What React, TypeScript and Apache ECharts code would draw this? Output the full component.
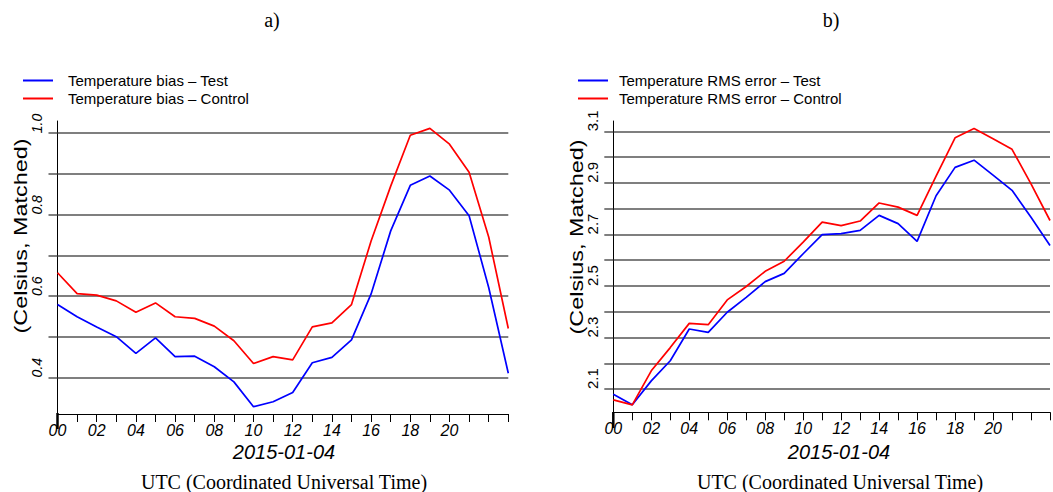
import React, { useEffect, useRef } from "react";
import * as echarts from "echarts";

// Hours (UTC) on 2015-01-04
const hours = [0, 1, 2, 3, 4, 5, 6, 7, 8, 9, 10, 11, 12, 13, 14, 15, 16, 17, 18, 19, 20, 21, 22, 23];

// a) Temperature bias
const biasTest = [0.579, 0.549, 0.524, 0.5, 0.459, 0.497, 0.451, 0.452, 0.426, 0.389, 0.328, 0.34, 0.363, 0.436, 0.449, 0.492, 0.605, 0.76, 0.872, 0.895, 0.86, 0.797, 0.621, 0.41];
const biasControl = [0.657, 0.606, 0.602, 0.588, 0.56, 0.583, 0.549, 0.545, 0.526, 0.49, 0.434, 0.451, 0.443, 0.524, 0.534, 0.579, 0.735, 0.87, 0.995, 1.012, 0.973, 0.904, 0.745, 0.52];

// b) Temperature RMS error
const rmsTest = [2.08, 2.039, 2.132, 2.21, 2.333, 2.32, 2.398, 2.456, 2.517, 2.549, 2.625, 2.699, 2.703, 2.716, 2.774, 2.742, 2.673, 2.85, 2.96, 2.988, 2.93, 2.871, 2.767, 2.657];
const rmsControl = [2.058, 2.039, 2.171, 2.261, 2.355, 2.35, 2.446, 2.498, 2.557, 2.596, 2.67, 2.748, 2.734, 2.752, 2.822, 2.806, 2.774, 2.926, 3.075, 3.111, 3.071, 3.03, 2.896, 2.754];

// Axis ticks / labels
const biasGridValues = [0.4, 0.5, 0.6, 0.7, 0.8, 0.9, 1.0];
const biasLabelValues = [0.4, 0.6, 0.8, 1.0];
const rmsGridValues = [2.1, 2.2, 2.3, 2.4, 2.5, 2.6, 2.7, 2.8, 2.9, 3.0, 3.1];
const rmsLabelValues = [2.1, 2.3, 2.5, 2.7, 2.9, 3.1];
const dateLabel = "2015-01-04";
const utcLabel = "UTC (Coordinated Universal Time)";
const yName = "(Celsius, Matched)";

const SANS = "'Liberation Sans', Arial, sans-serif";
const SERIF = "'Liberation Serif', 'Times New Roman', serif";
const GRID_COLOR = "#555";

function xAxisFor(gridIndex: number) {
  return {
    type: "value",
    gridIndex,
    min: 0,
    max: 23,
    interval: 1,
    axisLine: { show: true, lineStyle: { color: "#000", width: 1 } },
    axisTick: { show: true, length: 8, lineStyle: { color: "#000", width: 1 } },
    splitLine: { show: false },
    axisLabel: {
      margin: 8,
      color: "#000",
      fontFamily: SANS,
      fontStyle: "italic",
      fontSize: 16,
      formatter: (v: number) => (v % 2 === 0 && v <= 20 ? String(v).padStart(2, "0") : ""),
    },
  };
}

function yAxisFor(
  gridIndex: number,
  min: number,
  max: number,
  grid: number[],
  labels: number[],
  italic: boolean,
  fontSize: number,
  margin: number
) {
  return {
    type: "value",
    gridIndex,
    min,
    max,
    axisLine: { show: true, lineStyle: { color: "#000", width: 1 } },
    axisTick: { show: true, customValues: grid, length: 9, lineStyle: { color: GRID_COLOR, width: 1.5 } },
    splitLine: { show: true, lineStyle: { color: GRID_COLOR, width: 1.5 } },
    axisLabel: {
      customValues: labels,
      rotate: 90,
      align: "left",
      verticalAlign: "bottom",
      margin,
      color: "#000",
      fontFamily: SANS,
      fontStyle: italic ? "italic" : "normal",
      fontSize,
      formatter: (v: number) => v.toFixed(1),
    },
  };
}

function lineSeries(name: string, values: number[], color: string, idx: number) {
  return {
    name,
    type: "line",
    xAxisIndex: idx,
    yAxisIndex: idx,
    data: hours.map((h, i) => [h, values[i]]),
    showSymbol: false,
    symbol: "none",
    clip: true,
    lineStyle: { color, width: 1.7 },
    itemStyle: { color },
    z: 3,
  };
}

function textEl(text: string, x: number, y: number, font: string, rotation = 0, scaleX = 1) {
  return {
    type: "text",
    x,
    y,
    rotation,
    scaleX,
    style: { text, font, fill: "#000", textAlign: "center", textVerticalAlign: "middle" },
  };
}

export default function App() {
  const ref = useRef<HTMLDivElement>(null);
  useEffect(() => {
    if (!ref.current) return;
    const chart = echarts.init(ref.current, undefined, { renderer: "svg" });
    const legendCommon = {
      orient: "vertical",
      icon: "rect",
      itemWidth: 30,
      itemHeight: 2,
      itemGap: 3,
      padding: 0,
      selectedMode: false,
    };
    chart.setOption({
      animation: false,
      backgroundColor: "#fff",
      grid: [
        { left: 57.5, right: 544.7, top: 121, bottom: 78 },
        { left: 613.3, right: -8, top: 121, bottom: 79.7 },
      ],
      legend: [
        {
          ...legendCommon,
          left: 23,
          top: 73,
          textStyle: { color: "#000", fontFamily: SANS, fontSize: 15, padding: [0, 0, 0, 10] },
          data: ["Temperature bias \u2013 Test", "Temperature bias \u2013 Control"],
        },
        {
          ...legendCommon,
          left: 578,
          top: 73,
          textStyle: { color: "#000", fontFamily: SANS, fontSize: 15, padding: [0, 0, 0, 6] },
          data: ["Temperature RMS error \u2013 Test", "Temperature RMS error \u2013 Control"],
        },
      ],
      xAxis: [xAxisFor(0), xAxisFor(1)],
      yAxis: [
        yAxisFor(0, 0.31, 1.03, biasGridValues, biasLabelValues, true, 14, 14),
        yAxisFor(1, 2.01, 3.14, rmsGridValues, rmsLabelValues, false, 15, 13),
      ],
      series: [
        lineSeries("Temperature bias \u2013 Test", biasTest, "#0000ff", 0),
        lineSeries("Temperature bias \u2013 Control", biasControl, "#ff0000", 0),
        lineSeries("Temperature RMS error \u2013 Test", rmsTest, "#0000ff", 1),
        lineSeries("Temperature RMS error \u2013 Control", rmsControl, "#ff0000", 1),
      ],
      graphic: [
        textEl("a)", 272, 20, `20px ${SERIF}`),
        textEl("b)", 831, 20, `20px ${SERIF}`),
        textEl(yName, 20.5, 236, `18px ${SANS}`, Math.PI / 2, 1.3),
        textEl(yName, 577, 237, `18px ${SANS}`, Math.PI / 2, 1.3),
        textEl(dateLabel, 284, 452, `italic 20px ${SANS}`),
        textEl(dateLabel, 839, 452, `italic 20px ${SANS}`),
        textEl(utcLabel, 284, 482, `20px ${SERIF}`),
        textEl(utcLabel, 840, 482, `20px ${SERIF}`),
        { type: "line", shape: { x1: 57.5, y1: 413, x2: 57.5, y2: 429 }, style: { stroke: "#000", lineWidth: 2.5 } },
        { type: "line", shape: { x1: 613.3, y1: 412, x2: 613.3, y2: 428 }, style: { stroke: "#000", lineWidth: 2.5 } },
      ],
    });
    return () => chart.dispose();
  }, []);
  return (
    <div
      ref={ref}
      style={{ position: "absolute", left: 0, top: 0, width: 1053, height: 492, background: "#fff" }}
    />
  );
}
